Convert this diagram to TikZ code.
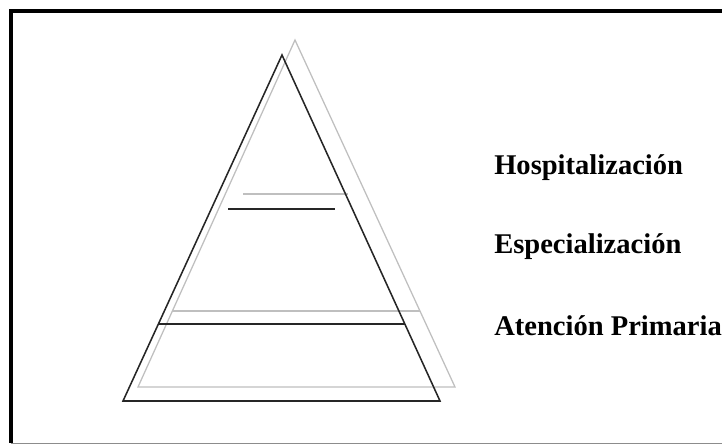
\documentclass[tikz,border=0pt]{standalone}
\usepackage{fontspec}
\setmainfont{Liberation Serif}
\usetikzlibrary{calc}

\begin{document}
\begin{tikzpicture}[
  x=0.025cm, y=-0.025cm,
  frame/.style={line width=2.2pt,black},
  front/.style={line width=1.1pt,black!85},
  back/.style={line width=0.9pt,black!25},
  level/.style={anchor=base west,inner sep=0pt,
                font=\fontsize{20.3}{24}\selectfont\bfseries}
]
\useasboundingbox (0,0) rectangle (722,445);

% marco
\draw[frame] (740,11) -- (11,11) -- (11,443);
\draw[line width=0.6pt,black!45] (11,443) -- (740,443);

% piramide de atras
\coordinate (gtop) at (295,40);
\coordinate (gbl) at (138,387);
\coordinate (gbr) at (455,387);
\draw[back] (gtop) -- (gbl) -- (gbr) -- cycle;
\draw[back] ($(gtop)!0.781!(gbl)$) -- ($(gtop)!0.781!(gbr)$);
\coordinate (gs1) at (243,194);
\coordinate (gs2) at (348,194);
\draw[back] (gs1) -- (gs2);

% piramide de delante
\coordinate (ktop) at (282,55);
\coordinate (kbl) at (123,401);
\coordinate (kbr) at (440,401);
\draw[front] (ktop) -- (kbl) -- (kbr) -- cycle;
\draw[front] ($(ktop)!0.7775!(kbl)$) -- ($(ktop)!0.7775!(kbr)$);
\coordinate (ks1) at (228,209);
\coordinate (ks2) at (335,209);
\draw[front] (ks1) -- (ks2);

% niveles
\node[level] (hosp) at (494,175) {Hospitalización};
\node[level] (espe) at (494,253) {Especialización};
\node[level] (prim) at (494,335) {Atención Primaria};

\end{tikzpicture}
\end{document}
